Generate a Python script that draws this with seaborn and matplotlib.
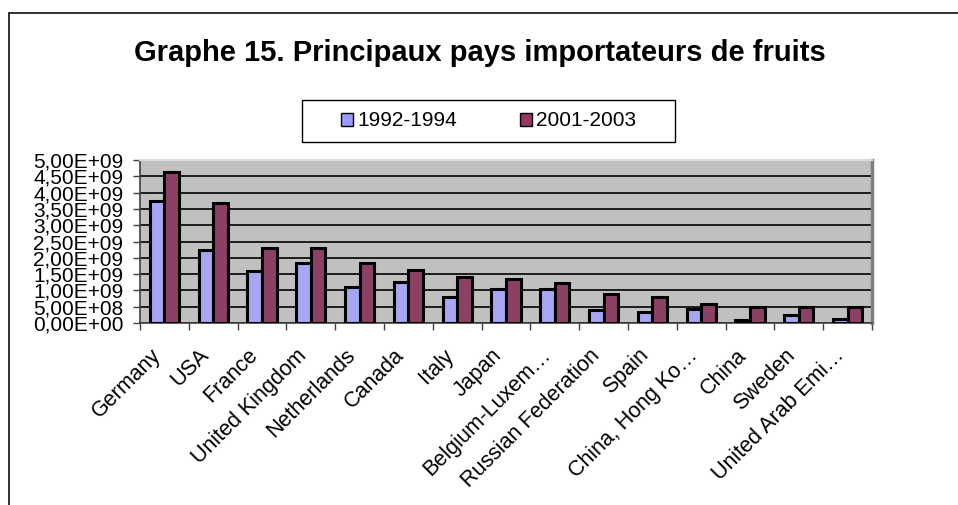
import numpy as np
import pandas as pd
import matplotlib
matplotlib.use("Agg")
import matplotlib.pyplot as plt
from matplotlib.patches import Rectangle, Patch
import matplotlib.transforms as mtransforms
import seaborn as sns

countries = ["Germany", "USA", "France", "United Kingdom", "Netherlands", "Canada",
             "Italy", "Japan", "Belgium-Luxem…", "Russian Federation", "Spain",
             "China, Hong Ko…", "China", "Sweden", "United Arab Emi…"]
v_1992_1994 = [3.75e9, 2.24e9, 1.60e9, 1.84e9, 1.09e9, 1.27e9, 0.81e9, 1.03e9,
               1.04e9, 0.40e9, 0.35e9, 0.42e9, 0.09e9, 0.24e9, 0.11e9]
v_2001_2003 = [4.62e9, 3.69e9, 2.29e9, 2.29e9, 1.85e9, 1.63e9, 1.42e9, 1.35e9,
               1.24e9, 0.89e9, 0.81e9, 0.58e9, 0.50e9, 0.48e9, 0.48e9]
series_names = ["1992-1994", "2001-2003"]
colors = ["#9999FF", "#993366"]
ytick_values = [0, 0.5e9, 1.0e9, 1.5e9, 2.0e9, 2.5e9, 3.0e9, 3.5e9, 4.0e9, 4.5e9, 5.0e9]
ytick_labels = ["0,00E+00", "5,00E+08", "1,00E+09", "1,50E+09", "2,00E+09", "2,50E+09",
                "3,00E+09", "3,50E+09", "4,00E+09", "4,50E+09", "5,00E+09"]
title = "Graphe 15. Principaux pays importateurs de fruits"

df = pd.DataFrame({
    "country": countries * 2,
    "value": v_1992_1994 + v_2001_2003,
    "period": [series_names[0]] * len(countries) + [series_names[1]] * len(countries),
})

sns.set_theme(style="white")
plt.rcParams["font.family"] = ["Liberation Sans", "DejaVu Sans"]
plt.rcParams["text.color"] = "black"
plt.rcParams["xtick.color"] = "black"
plt.rcParams["ytick.color"] = "black"

W, H = 958, 505
fig = plt.figure(figsize=(W / 100, H / 100), dpi=100)
fig.patch.set_facecolor("white")

# outer chart frame
fig.patches.append(Rectangle((9 / W, -0.1), 1.2, 1 - 13 / H + 0.1, transform=fig.transFigure,
                             fill=False, edgecolor="#202020", linewidth=1.3, zorder=0))

ax = fig.add_axes([140 / W, 1 - 323 / H, 732 / W, 163 / H])
ax.set_facecolor("#C0C0C0")

sns.barplot(data=df, x="country", y="value", hue="period", order=countries,
            hue_order=series_names, palette=colors, width=0.6, edgecolor="black",
            linewidth=2.2, ax=ax, legend=False, zorder=3)

ax.set_xlim(-0.5, len(countries) - 0.5)
ax.set_ylim(0, 5e9)
ax.set_yticks(ytick_values)
ax.set_yticklabels(ytick_labels, fontsize=15)
ax.yaxis.grid(True, color="black", linewidth=1.2, zorder=1)
ax.set_axisbelow(True)
ax.set_xlabel("")
ax.set_ylabel("")

ax.tick_params(axis="y", which="major", length=5, width=1, color="#404040",
               direction="out", pad=7, left=True)
ax.set_xticks(np.arange(len(countries)))
ax.set_xticklabels(countries, fontsize=15.5, rotation=45, ha="right", va="center",
                   rotation_mode="anchor")
ax.tick_params(axis="x", which="major", length=0, pad=21)
ax.set_xticks(np.arange(len(countries) + 1) - 0.5, minor=True)
ax.tick_params(axis="x", which="minor", length=5, width=1, color="#404040",
               direction="out", bottom=True)
offset = mtransforms.ScaledTranslation(-7 / 100, 0, fig.dpi_scale_trans)
for lbl in ax.get_xticklabels():
    lbl.set_transform(lbl.get_transform() + offset)

for side in ["left", "bottom"]:
    ax.spines[side].set_color("#404040")
    ax.spines[side].set_linewidth(1.2)
ax.spines["top"].set_color("#dcdcdc")
ax.spines["top"].set_linewidth(1.5)
ax.spines["right"].set_color("#808080")
ax.spines["right"].set_linewidth(2.5)

fig.text(479.5 / W, 1 - 53 / H, title, ha="center", va="center",
         fontsize=21, fontweight="bold", color="black")

# legend box
fig.patches.append(Rectangle((302 / W, 1 - 142 / H), 373 / W, 42 / H,
                             transform=fig.transFigure, fill=True, facecolor="white",
                             edgecolor="black", linewidth=1.0, zorder=1))
handles = [Patch(facecolor=c, edgecolor="black", linewidth=1.0) for c in colors]
leg = fig.legend(handles, series_names, loc="center", bbox_to_anchor=(488.5 / W, 1 - 121 / H),
                 ncol=2, frameon=False, fontsize=15, handlelength=0.6, handleheight=0.6,
                 handletextpad=0.2, columnspacing=3.0)
for t in leg.get_texts():
    t.set_color("black")

fig.savefig("out.png", dpi=100)
